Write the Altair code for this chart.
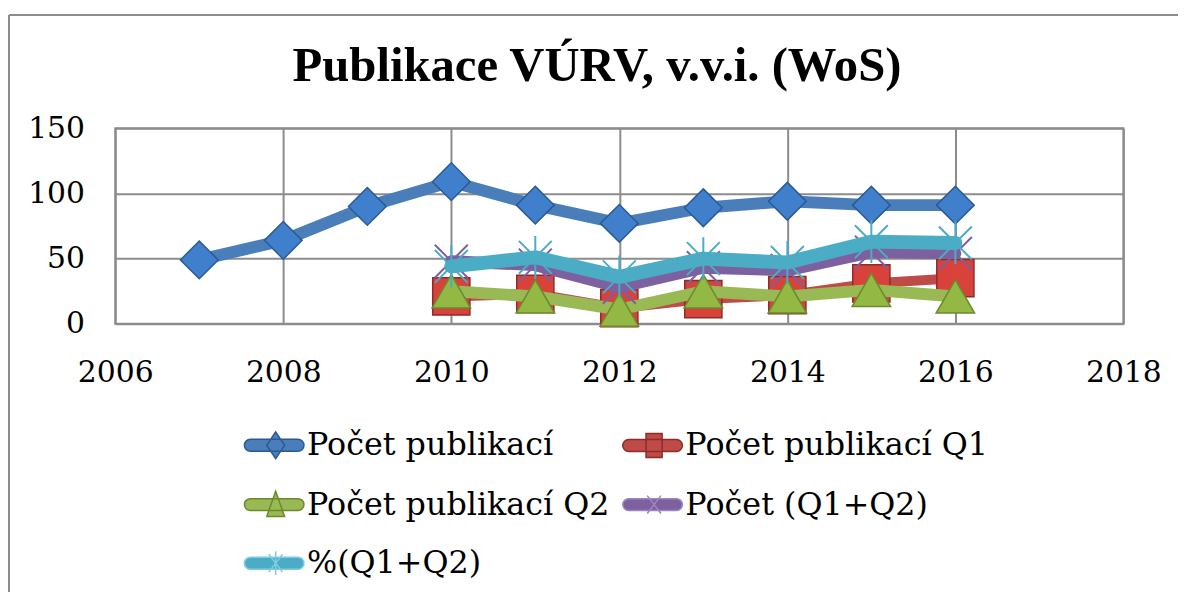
import altair as alt
import pandas as pd

title_text = "Publikace VÚRV, v.v.i. (WoS)"
years = [2007, 2008, 2009, 2010, 2011, 2012, 2013, 2014, 2015, 2016]
pocet = [49, 64, 90, 109, 91, 77, 89, 94, 91, 91]
q1 = [None, None, None, 21, 23, 12, 19, 22, 31, 35]
q2 = [None, None, None, 25, 21, 11, 25, 21, 26, 21]
q12 = [None, None, None, 48, 45, 28, 43, 41, 55, 54]
pct = [None, None, None, 44, 51, 36, 50, 47, 63, 62]

series_names = ["Počet publikací", "Počet publikací Q1", "Počet publikací Q2",
                "Počet (Q1+Q2)", "%(Q1+Q2)"]
series_values = [pocet, q1, q2, q12, pct]
line_colors = ["#4A7EBB", "#BE4B48", "#98B954", "#7D60A0", "#4BACC6"]
marker_fill = ["#3F7FCB", "#D9413B", "#93B944", "#7D60A0", "#4BACC6"]
marker_stroke = ["#2B5A93", "#8E2C28", "#6B8A2C", "#7D60A0", "#4BACC6"]
legend_stroke = ["#2B5A93", "#8E2C28", "#6B8A2C", "#9B86C0", "#7FCBE0"]
x_ticks = [2006, 2008, 2010, 2012, 2014, 2016, 2018]
y_ticks = [0, 50, 100, 150]

rows = []
for name, vals in zip(series_names, series_values):
    for y, v in zip(years, vals):
        if v is not None:
            rows.append({"year": y, "value": v, "series": name})
df = pd.DataFrame(rows)

X = alt.X("year:Q", scale=alt.Scale(domain=[2006, 2018], nice=False),
          axis=alt.Axis(values=x_ticks, format="d", title=None, tickSize=0,
                        labelPadding=34, labelFontSize=30, labelFont="DejaVu Serif",
                        labelColor="black", gridColor="#8C8C8C", gridWidth=2,
                        domain=False, labelFlush=False))
Y = alt.Y("value:Q", scale=alt.Scale(domain=[0, 150], nice=False),
          axis=alt.Axis(values=y_ticks, title=None, tickSize=0, labelPadding=31,
                        labelFontSize=30, labelFont="DejaVu Serif", labelColor="black",
                        gridColor="#8C8C8C", gridWidth=2, domain=False))

star_x = "M-1,-1L1,1M-1,1L1,-1"
star_ast = "M-1,-1L1,1M-1,1L1,-1M0,-1.3L0,1.3"
shapes = ["diamond", "square", "triangle-up", star_x, star_ast]
sizes = [1444, 1400, 1500, 1100, 1100]
line_widths = [12, 10, 12, 12, 14]

layers = []
for i, name in enumerate(series_names):
    base = alt.Chart(df).transform_filter(alt.datum.series == name)
    layers.append(base.mark_line(color=line_colors[i], strokeWidth=line_widths[i],
                                 strokeJoin="round", strokeCap="round").encode(x=X, y=Y))
    if i < 3:
        pt = base.mark_point(shape=shapes[i], size=sizes[i], filled=True, opacity=1,
                             fill=marker_fill[i], stroke=marker_stroke[i], strokeWidth=1.5)
    else:
        pt = base.mark_point(shape=shapes[i], size=sizes[i], filled=False, opacity=1,
                             stroke=marker_stroke[i], strokeWidth=2)
    layers.append(pt.encode(x=X, y=Y))

bar = "M-0.8,-0.2L0.8,-0.2A0.2,0.2 0 0 1 0.8,0.2L-0.8,0.2A0.2,0.2 0 0 1 -0.8,-0.2Z"
leg_shapes = [
    bar + "M0.05,-0.45L0.35,0L0.05,0.45L-0.25,0Z",
    bar + "M-0.22,-0.4L0.32,-0.4L0.32,0.4L-0.22,0.4Z",
    bar + "M0.05,-0.45L0.35,0.4L-0.25,0.4Z",
    bar + "M-0.18,-0.3L0.28,0.3M-0.18,0.3L0.28,-0.3",
    bar + "M-0.18,-0.3L0.28,0.3M-0.18,0.3L0.28,-0.3M0.05,-0.4L0.05,0.4",
]
# legend fills column by column (3 rows x 2 columns)
legend_order = [0, 2, 4, 1, 3]
leg_domain = [series_names[i] for i in legend_order]
leg_fill = [line_colors[i] for i in legend_order]
leg_stroke = [legend_stroke[i] for i in legend_order]
leg_shape = [leg_shapes[i] for i in legend_order]

leg_df = pd.DataFrame({"series": series_names})
legend_layer = alt.Chart(leg_df).transform_filter("false").mark_point(
    filled=True, opacity=1, strokeWidth=1.5).encode(
    fill=alt.Fill("series:N", scale=alt.Scale(domain=leg_domain, range=leg_fill),
                  legend=alt.Legend(title=None)),
    stroke=alt.Stroke("series:N", scale=alt.Scale(domain=leg_domain, range=leg_stroke),
                      legend=alt.Legend(title=None)),
    shape=alt.Shape("series:N", scale=alt.Scale(domain=leg_domain, range=leg_shape),
                    legend=alt.Legend(title=None)),
)

frame_df = pd.DataFrame({"k": [0]})
frame_top = alt.Chart(frame_df).mark_rule(color="#8C8C8C", strokeWidth=2).encode(
    x=alt.value(-107), x2=alt.value(1080), y=alt.value(-114))
frame_left = alt.Chart(frame_df).mark_rule(color="#8C8C8C", strokeWidth=2).encode(
    x=alt.value(-107), y=alt.value(-114), y2=alt.value(480))
title_layer = alt.Chart(frame_df).mark_text(
    text=title_text, font="Liberation Serif", fontSize=49, fontWeight="bold",
    color="black", align="center", baseline="alphabetic").encode(
    x=alt.value(485), y=alt.value(-47))

chart = alt.layer(frame_top, frame_left, title_layer, *layers, legend_layer).properties(
    width=1015, height=197,
    padding={"left": 108, "top": 119, "right": 55, "bottom": 268},
    autosize=alt.AutoSizeParams(type="none"),
).configure_view(stroke="#8C8C8C", strokeWidth=2).configure_legend(
    orient="none", legendX=129, legendY=288, columns=2, columnPadding=10,
    rowPadding=12, symbolSize=3600, labelFontSize=32, labelFont="DejaVu Serif",
    labelColor="black", labelLimit=0, labelOffset=2, padding=0, symbolStrokeWidth=1.5,
    gridAlign="each"
)

chart.save("out.html", embed_options={"renderer": "svg", "actions": False})
